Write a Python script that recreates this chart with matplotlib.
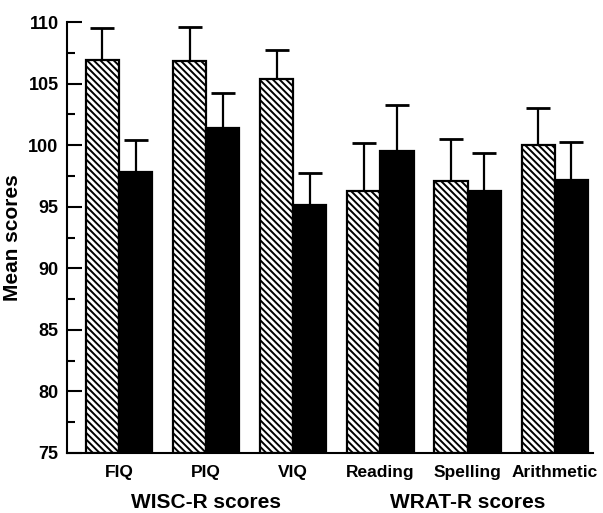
import numpy as np
import matplotlib
matplotlib.use('Agg')
import matplotlib.pyplot as plt

plt.rcParams['font.family'] = ['Liberation Sans', 'DejaVu Sans']
plt.rcParams['font.weight'] = 'bold'
plt.rcParams['hatch.linewidth'] = 1.4

# data
tests = ['FIQ', 'PIQ', 'VIQ', 'Reading', 'Spelling', 'Arithmetic']
groups = ['WISC-R scores', 'WRAT-R scores']
hatched_mean = [106.9, 106.85, 105.4, 96.25, 97.05, 100.0]
hatched_top = [109.5, 109.6, 107.7, 100.15, 100.5, 103.0]
black_mean = [97.85, 101.4, 95.15, 99.5, 96.3, 97.2]
black_top = [100.45, 104.2, 97.75, 103.25, 99.35, 100.25]

hatched_err = np.array(hatched_top) - np.array(hatched_mean)
black_err = np.array(black_top) - np.array(black_mean)

x = np.arange(len(tests))
w = 0.38

fig = plt.figure(figsize=(6.03, 5.13), dpi=100)
ax = fig.add_axes([0.111, 0.117, 0.872, 0.840])

ax.bar(x - w/2, np.array(hatched_mean) - 75, w, bottom=75, color='white',
       edgecolor='black', linewidth=1.6, hatch='\\\\\\\\\\', zorder=2)
ax.bar(x + w/2, np.array(black_mean) - 75, w, bottom=75, color='black',
       edgecolor='black', linewidth=1.6, zorder=2)

ax.errorbar(x - w/2, hatched_mean, yerr=[np.zeros(len(x)), hatched_err],
            fmt='none', ecolor='black', elinewidth=1.6, capsize=8.5, capthick=2, zorder=1)
ax.errorbar(x + w/2, black_mean, yerr=[np.zeros(len(x)), black_err],
            fmt='none', ecolor='black', elinewidth=1.6, capsize=8.5, capthick=2, zorder=1)

ax.set_ylim(75, 110)
ax.set_xlim(-0.598, 5.437)
ax.set_yticks(np.arange(75, 111, 5))
ax.set_yticks(np.arange(77.5, 110, 5), minor=True)
ax.tick_params(axis='y', which='major', direction='in', length=11, width=1.5,
               labelsize=13, pad=6)
ax.tick_params(axis='y', which='minor', direction='in', length=5.5, width=1.5)
ax.set_xticks(x)
ax.set_xticklabels(tests)
ax.tick_params(axis='x', length=0, labelsize=12.5, pad=9)

for s in ['top', 'right']:
    ax.spines[s].set_visible(False)
ax.spines['left'].set_linewidth(1.5)
ax.spines['bottom'].set_linewidth(1.5)

ax.set_ylabel('Mean scores', fontsize=15, fontweight='bold')
ax.yaxis.set_label_coords(-0.086, 0.5)

ax.text(1, -0.115, groups[0], transform=ax.get_xaxis_transform(),
        ha='center', va='center', fontsize=15)
ax.text(4, -0.115, groups[1], transform=ax.get_xaxis_transform(),
        ha='center', va='center', fontsize=15)

fig.savefig('out.png', dpi=100)
